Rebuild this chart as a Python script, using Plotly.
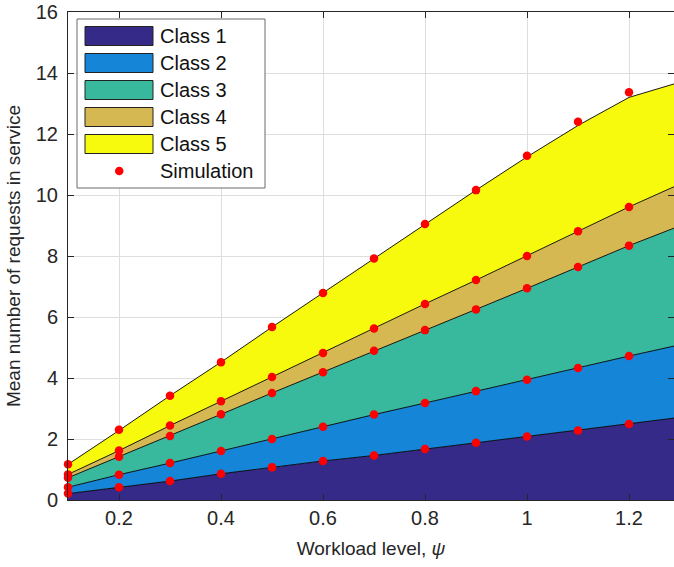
import numpy as np
import plotly.graph_objects as go

# ---------------- data ----------------
x_model = [0.1, 0.2, 0.3, 0.4, 0.5, 0.6, 0.7, 0.8, 0.9, 1.0, 1.1, 1.2, 1.3]
class1 = [0.21, 0.42, 0.62, 0.86, 1.07, 1.28, 1.46, 1.67, 1.88, 2.08, 2.28, 2.49, 2.71]
class2 = [0.21, 0.41, 0.59, 0.75, 0.93, 1.12, 1.34, 1.51, 1.69, 1.86, 2.05, 2.23, 2.38]
class3 = [0.31, 0.59, 0.89, 1.20, 1.51, 1.79, 2.09, 2.39, 2.68, 3.00, 3.31, 3.62, 3.90]
class4 = [0.11, 0.20, 0.34, 0.43, 0.52, 0.63, 0.73, 0.86, 0.96, 1.06, 1.17, 1.27, 1.37]
class5 = [0.33, 0.66, 0.98, 1.28, 1.64, 1.97, 2.30, 2.62, 2.95, 3.25, 3.47, 3.59, 3.34]

x_sim = [0.1, 0.2, 0.3, 0.4, 0.5, 0.6, 0.7, 0.8, 0.9, 1.0, 1.1, 1.2]
sim1 = [0.21, 0.42, 0.62, 0.86, 1.07, 1.28, 1.46, 1.67, 1.88, 2.08, 2.28, 2.49]
sim2 = [0.21, 0.41, 0.59, 0.75, 0.93, 1.12, 1.34, 1.51, 1.69, 1.86, 2.05, 2.23]
sim3 = [0.31, 0.59, 0.89, 1.20, 1.51, 1.79, 2.09, 2.39, 2.68, 3.00, 3.31, 3.62]
sim4 = [0.11, 0.20, 0.34, 0.43, 0.52, 0.63, 0.73, 0.86, 0.96, 1.06, 1.17, 1.27]
sim5 = [0.33, 0.68, 0.98, 1.28, 1.64, 1.97, 2.30, 2.62, 2.95, 3.29, 3.59, 3.76]

class_names = ["Class 1", "Class 2", "Class 3", "Class 4", "Class 5"]
sim_name = "Simulation"
x_ticks = [0.2, 0.4, 0.6, 0.8, 1.0, 1.2]
x_tick_labels = ["0.2", "0.4", "0.6", "0.8", "1", "1.2"]
y_ticks = [0, 2, 4, 6, 8, 10, 12, 14, 16]

colors = ["#352A87", "#1585D8", "#38B89D", "#D6B853", "#F8FA0E"]

# ---------------- figure ----------------
FONT = "Liberation Sans, Arial, Helvetica, sans-serif"
fig = go.Figure()

model = [class1, class2, class3, class4, class5]
for name, vals, col in zip(class_names, model, colors):
    fig.add_trace(go.Scatter(
        x=x_model, y=vals, name=name, stackgroup="one", mode="lines",
        line=dict(color="#000000", width=0.9), fillcolor=col, showlegend=False,
    ))

sims = [sim1, sim2, sim3, sim4, sim5]
cum = np.cumsum(np.array(sims), axis=0)
sx = []
sy = []
for row in cum:
    sx += x_sim
    sy += list(row)
fig.add_trace(go.Scatter(
    x=sx, y=sy, mode="markers", name=sim_name, showlegend=False,
    marker=dict(color="#FF0000", size=8.5, line=dict(width=0)),
    cliponaxis=False,
))

# ---------------- manual legend (pixel -> paper) ----------------
L, T, W, H = 68, 12, 606, 488
def px(v):
    return (v - L) / W
def py(v):
    return (T + H - v) / H

shapes = [dict(type="rect", xref="paper", yref="paper",
               x0=px(77), x1=px(265), y0=py(19), y1=py(188),
               fillcolor="white", line=dict(color="#6b6b6b", width=1), layer="above")]
annotations = []
for i, (name, col) in enumerate(zip(class_names, colors)):
    cy = 36 + 27 * i
    shapes.append(dict(type="rect", xref="paper", yref="paper",
                       x0=px(85), x1=px(153), y0=py(cy + 9.5), y1=py(cy - 9.5),
                       fillcolor=col, line=dict(color="#222222", width=1), layer="above"))
    annotations.append(dict(xref="paper", yref="paper", x=px(158), y=py(cy),
                            text=name, showarrow=False, xanchor="left", yanchor="middle",
                            font=dict(family=FONT, size=20, color="#111111")))
cy = 36 + 27 * 5
shapes.append(dict(type="circle", xref="paper", yref="paper",
                   x0=px(115), x1=px(123.5), y0=py(cy + 4.25), y1=py(cy - 4.25),
                   fillcolor="#FF0000", line=dict(width=0), layer="above"))
annotations.append(dict(xref="paper", yref="paper", x=px(158), y=py(cy),
                        text=sim_name, showarrow=False, xanchor="left", yanchor="middle",
                        font=dict(family=FONT, size=20, color="#111111")))

fig.update_layout(
    width=674, height=567,
    margin=dict(l=68, r=0, t=12, b=67),
    paper_bgcolor="white", plot_bgcolor="white",
    font=dict(family=FONT, size=20, color="#262626"),
    showlegend=False,
    shapes=shapes, annotations=annotations,
    xaxis=dict(
        range=[0.1, 1.2882], tickvals=x_ticks, ticktext=x_tick_labels,
        showgrid=True, gridcolor="#DEDEDE", gridwidth=1, zeroline=False,
        showline=True, linecolor="#262626", linewidth=1, mirror="allticks",
        ticks="inside", ticklen=6, tickcolor="#262626",
        tickfont=dict(family=FONT, size=20, color="#262626"),
        title=dict(text="Workload level, <i>ψ</i>", standoff=13,
                   font=dict(family=FONT, size=19, color="#262626")),
    ),
    yaxis=dict(
        range=[0, 16], tickvals=y_ticks,
        showgrid=True, gridcolor="#DEDEDE", gridwidth=1, zeroline=False,
        showline=True, linecolor="#262626", linewidth=1, mirror="allticks",
        ticks="inside", ticklen=6, tickcolor="#262626", ticklabelstandoff=5,
        tickfont=dict(family=FONT, size=20, color="#262626"),
        title=dict(text="Mean number of requests in service", standoff=10,
                   font=dict(family=FONT, size=19, color="#262626")),
    ),
)

fig.write_html("out.html")
